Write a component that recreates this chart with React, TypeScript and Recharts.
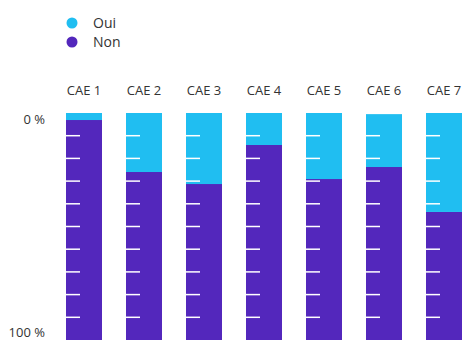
import React from 'react';
import { BarChart, Bar, XAxis, YAxis } from 'recharts';

const categories = ['CAE 1', 'CAE 2', 'CAE 3', 'CAE 4', 'CAE 5', 'CAE 6', 'CAE 7'];
const ouiValues = [3.1, 26, 31.3, 14.1, 29.1, 23.3, 43.6];
const nonValues = [96.9, 74, 68.7, 85.9, 70.9, 76.2, 56.4];
const innerTicks = [10, 20, 30, 40, 50, 60, 70, 80, 90];
const yTicks = [0, 100];
const yTickLabels: Record<number, string> = { 100: '0 %', 0: '100 %' };

const OUI = '#20BEF1';
const NON = '#5327BC';
const FONT = '"Open Sans", sans-serif';

const data = categories.map((c, i) => ({ name: c, oui: ouiValues[i], non: nonValues[i] }));

const OuiShape = (props: any) => {
  const { x, y, width, height, payload, fill } = props;
  const ppu = height / payload.oui;
  const bottom = y + height + payload.non * ppu;
  return (
    <g>
      <rect x={x} y={y} width={width} height={height} fill={fill} />
      {innerTicks.map((v) => {
        const ly = bottom - v * ppu;
        return <line key={v} x1={x} x2={x + 14} y1={ly} y2={ly} stroke="#ffffff" strokeWidth={1.5} />;
      })}
    </g>
  );
};

const YTick = (props: any) => {
  const { x, y, payload } = props;
  const v = payload.value;
  const dy = v === 100 ? 6 : -8;
  return (
    <text x={x} y={y + dy} textAnchor="end" dominantBaseline="central" fontSize={13} fill="#333" fontFamily={FONT}>
      {yTickLabels[v]}
    </text>
  );
};

const legendItems = [
  { label: 'Oui', color: OUI },
  { label: 'Non', color: NON },
];

export default function App() {
  return (
    <div style={{ position: 'absolute', left: 0, top: 0, width: 462, height: 340, overflow: 'hidden', background: '#fff' }}>
      <div style={{ position: 'absolute', left: 66, top: 13, fontFamily: FONT, fontSize: 14, color: '#333', zIndex: 2 }}>
        {legendItems.map((it) => (
          <div key={it.label} style={{ display: 'flex', alignItems: 'center', height: 19 }}>
            <svg width={12} height={12} style={{ marginRight: 15 }}>
              <circle cx={6} cy={6} r={5.5} fill={it.color} />
            </svg>
            <span>{it.label}</span>
          </div>
        ))}
      </div>
      <BarChart width={474} height={340} data={data} margin={{ top: 83, right: 0, bottom: 0, left: 0 }}>
        <XAxis
          dataKey="name"
          orientation="top"
          height={30}
          axisLine={false}
          tickLine={false}
          tickSize={0}
          tickMargin={18}
          tick={{ fontSize: 13, fill: '#333', fontFamily: FONT }}
          interval={0}
        />
        <YAxis
          domain={[0, 100]}
          ticks={yTicks}
          width={54}
          axisLine={false}
          tickLine={false}
          tickSize={0}
          tickMargin={9}
          tick={<YTick />}
          interval={0}
          allowDataOverflow
        />
        <Bar dataKey="non" stackId="a" fill={NON} barSize={36} isAnimationActive={false} />
        <Bar dataKey="oui" stackId="a" fill={OUI} barSize={36} isAnimationActive={false} shape={<OuiShape />} />
      </BarChart>
    </div>
  );
}
